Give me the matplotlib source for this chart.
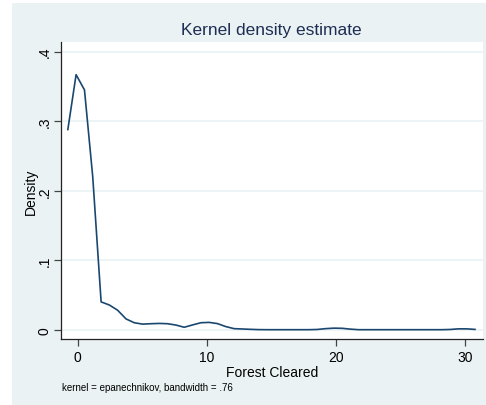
import matplotlib
matplotlib.use("Agg")
import matplotlib.pyplot as plt
from matplotlib.patches import Rectangle

# Data (evaluation points and density estimates)
forest_cleared = [-0.76, -0.12, 0.53, 1.17, 1.82, 2.46, 3.10, 3.75, 4.39, 5.04,
                  5.68, 6.32, 6.97, 7.61, 8.26, 8.90, 9.55, 10.19, 10.83, 11.48,
                  12.12, 12.77, 13.41, 14.05, 14.70, 15.34, 15.99, 16.63, 17.27, 17.92,
                  18.56, 19.21, 19.85, 20.49, 21.14, 21.78, 22.43, 23.07, 23.72, 24.36,
                  25.00, 25.65, 26.29, 26.94, 27.58, 28.22, 28.87, 29.51, 30.16, 30.80]
density = [0.288, 0.367, 0.345, 0.220, 0.040, 0.0355, 0.028, 0.0155, 0.010, 0.008,
           0.0086, 0.009, 0.0086, 0.0067, 0.0035, 0.0068, 0.010, 0.0105, 0.0088, 0.0045,
           0.0015, 0.0010, 0.0005, 0.0001, 0.0, 0.0, 0.0, 0.0, 0.0, 0.0,
           0.0003, 0.0015, 0.0022, 0.0020, 0.0008, 0.0, 0.0, 0.0, 0.0, 0.0,
           0.0, 0.0, 0.0, 0.0, 0.0, 0.0, 0.0003, 0.0012, 0.0012, 0.0004]
x_ticks = [0, 10, 20, 30]
y_ticks = [0, 0.1, 0.2, 0.3, 0.4]
y_tick_labels = ["0", ".1", ".2", ".3", ".4"]
title = "Kernel density estimate"
x_label = "Forest Cleared"
y_label = "Density"
note = "kernel = epanechnikov, bandwidth = .76"

plt.rcParams['font.family'] = ['Liberation Sans', 'DejaVu Sans']

W, H = 486, 406
fig = plt.figure(figsize=(W / 100, H / 100), dpi=100, facecolor="white")

panel_color = "#EAF2F3"
fig.patches.append(Rectangle((12 / W, 0), 1 - 12 / W, 1 - 4 / H,
                             transform=fig.transFigure, facecolor=panel_color,
                             edgecolor="none", zorder=-10))

ax = fig.add_axes([61 / W, (H - 340) / H, (483 - 61) / W, (340 - 43) / H])
ax.set_zorder(1)
ax.set_facecolor("white")
ax.plot(forest_cleared, density, color="#1a476f", lw=1.2, zorder=3)

ax.set_xlim(-1.29, 31.42)
ax.set_ylim(-0.0134, 0.414)
ax.set_xticks(x_ticks)
ax.set_yticks(y_ticks)
ax.set_yticklabels(y_tick_labels, rotation=90, va="center")
ax.grid(axis="y", color=panel_color, lw=1.2, zorder=1)
ax.set_axisbelow(True)

for s in ["top", "right"]:
    ax.spines[s].set_visible(False)
for s in ["left", "bottom"]:
    ax.spines[s].set_color("#222222")
    ax.spines[s].set_linewidth(0.9)

ax.tick_params(axis="both", direction="out", length=5, width=0.9,
               colors="#444444", labelcolor="black", labelsize=10)
ax.tick_params(axis="y", pad=1.5)
ax.tick_params(axis="x", pad=3)

ax.set_xlabel(x_label, fontsize=10, labelpad=1)
ax.set_ylabel(y_label, fontsize=10, labelpad=0)

fig.text((183 + 359) / 2 / W, 1 - 30 / H, title, ha="center", va="center",
         fontsize=12.5, color="#1e2d53")
fig.text(62 / W, 1 - 388 / H, note, ha="left", va="center", fontsize=7)

fig.savefig("out.png", dpi=100, facecolor="white")
